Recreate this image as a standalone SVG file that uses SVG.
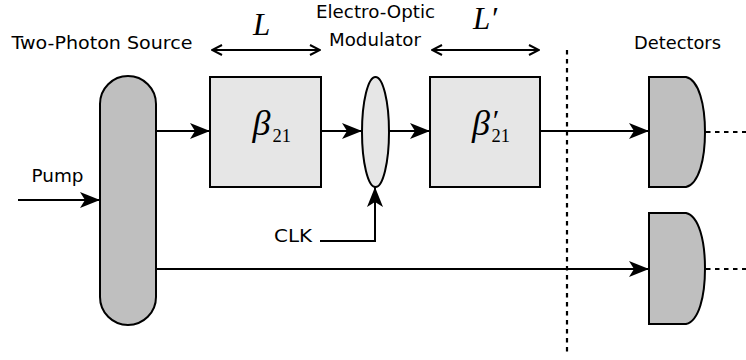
<svg xmlns="http://www.w3.org/2000/svg" width="746" height="360" viewBox="0 0 746 360">
<style>
.lbl{font-family:"DejaVu Sans",sans-serif;font-size:17.5px;fill:#000}
.math{font-family:"Liberation Serif","DejaVu Serif",serif;fill:#000}
.box{fill:#e6e6e6;stroke:#000;stroke-width:2}
.dark{fill:#bfbfbf;stroke:#000;stroke-width:2}
.wire{fill:none;stroke:#000;stroke-width:2}
.dash{fill:none;stroke:#000;stroke-width:2.2;stroke-dasharray:4.5 4.5}
</style>
<defs>
<marker id="ah" viewBox="0 0 20 16" refX="20" refY="8" markerWidth="20" markerHeight="16" markerUnits="userSpaceOnUse" orient="auto">
<path d="M0,0 L20,8 L0,16 L5,8 Z" fill="#000"/>
</marker>
<marker id="open" viewBox="0 0 12 12" refX="11" refY="6" markerWidth="12" markerHeight="12" markerUnits="userSpaceOnUse" orient="auto-start-reverse">
<path d="M1,1 L11,6 L1,11" fill="none" stroke="#000" stroke-width="2"/>
</marker>
</defs>
<g id="labels">
<text class="lbl" x="11.5" y="49" textLength="181" lengthAdjust="spacingAndGlyphs">Two-Photon Source</text>
<text class="lbl" x="316" y="18" textLength="119" lengthAdjust="spacingAndGlyphs">Electro-Optic</text>
<text class="lbl" x="329" y="45.5" textLength="92" lengthAdjust="spacingAndGlyphs">Modulator</text>
<text class="lbl" x="634" y="49" textLength="87" lengthAdjust="spacingAndGlyphs">Detectors</text>
<text class="lbl" x="31.5" y="182" textLength="52" lengthAdjust="spacingAndGlyphs">Pump</text>
<text class="lbl" x="274" y="242" textLength="38" lengthAdjust="spacingAndGlyphs">CLK</text>
<text class="math" x="253" y="35" font-size="31" font-style="italic">L</text>
<text class="math" x="473" y="29" font-size="31" font-style="italic">L′</text>
</g>
<g id="source">
<rect class="dark" x="100" y="76" width="56" height="249" rx="28" ry="28"/>
</g>
<g id="fiber1">
<rect class="box" x="210" y="77" width="111" height="110"/>
<text class="math" x="252.5" y="135" font-size="36" font-style="italic">β</text>
<text class="math" x="272.5" y="141.7" font-size="18.5">21</text>
</g>
<g id="modulator">
<ellipse class="box" cx="375.5" cy="132" rx="13.5" ry="55"/>
</g>
<g id="fiber2">
<rect class="box" x="430" y="77" width="110" height="110"/>
<text class="math" x="472" y="135" font-size="36" font-style="italic">β</text>
<text class="math" x="491.5" y="141.7" font-size="18.5">21<tspan x="491" y="130" font-size="30" font-style="italic">′</tspan></text>
</g>
<g id="detector1">
<path class="dark" d="M649,77 H686 C699,80 705,105 705,132 C705,159 699,184 686,187 H649 Z"/>
</g>
<g id="detector2">
<path class="dark" d="M649,213 H686 C699,216 705,241 705,268.5 C705,296 699,321 686,324 H649 Z"/>
</g>
<g id="connectors">
<line class="wire" x1="18" y1="200" x2="100" y2="200" marker-end="url(#ah)"/>
<line class="wire" x1="156" y1="131" x2="210" y2="131" marker-end="url(#ah)"/>
<line class="wire" x1="321" y1="131" x2="362" y2="131" marker-end="url(#ah)"/>
<line class="wire" x1="389" y1="131" x2="430" y2="131" marker-end="url(#ah)"/>
<line class="wire" x1="540" y1="131" x2="649" y2="131" marker-end="url(#ah)"/>
<line class="wire" x1="156" y1="269" x2="649" y2="269" marker-end="url(#ah)"/>
<polyline class="wire" points="320,241 375,241 375,187" marker-end="url(#ah)"/>
<line class="wire" x1="212" y1="50" x2="320" y2="50" marker-start="url(#open)" marker-end="url(#open)"/>
<line class="wire" x1="432" y1="50" x2="539" y2="50" marker-start="url(#open)" marker-end="url(#open)"/>
<line class="dash" x1="567" y1="50" x2="567" y2="352"/>
<line class="dash" x1="706" y1="132" x2="746" y2="132"/>
<line class="dash" x1="706" y1="269" x2="746" y2="269"/>
</g>
</svg>
